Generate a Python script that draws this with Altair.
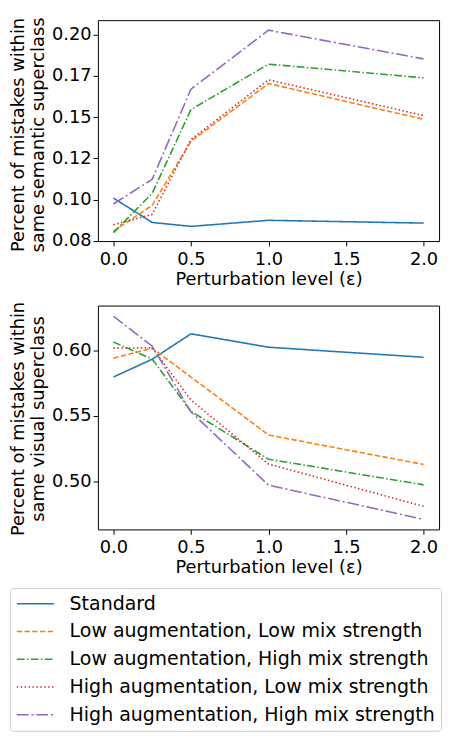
import altair as alt
import pandas as pd

eps = [0.0, 0.25, 0.5, 1.0, 2.0]
series = [
    "Standard",
    "Low augmentation, Low mix strength",
    "Low augmentation, High mix strength",
    "High augmentation, Low mix strength",
    "High augmentation, High mix strength",
]

# semantic superclass panel
sem_standard = [0.1009, 0.0861, 0.0837, 0.0874, 0.0857]
sem_low_low = [0.0808, 0.0965, 0.1354, 0.1704, 0.1487]
sem_low_high = [0.0799, 0.1038, 0.1546, 0.1822, 0.1739]
sem_high_low = [0.0847, 0.0910, 0.1364, 0.1727, 0.1510]
sem_high_high = [0.0973, 0.1123, 0.1670, 0.2028, 0.1854]

# visual superclass panel
vis_standard = [0.5796, 0.5931, 0.6124, 0.6022, 0.5946]
vis_low_low = [0.5939, 0.6015, 0.5796, 0.5356, 0.5133]
vis_low_high = [0.6062, 0.5931, 0.5536, 0.5173, 0.4978]
vis_high_low = [0.6015, 0.6018, 0.5622, 0.5136, 0.4815]
vis_high_high = [0.6257, 0.6030, 0.5531, 0.4976, 0.4716]

x_ticks = [0.0, 0.5, 1.0, 1.5, 2.0]
sem_ticks = [0.075, 0.1, 0.125, 0.15, 0.175, 0.2]
sem_tick_labels = ["0.08", "0.10", "0.12", "0.15", "0.17", "0.20"]
vis_ticks = [0.5, 0.55, 0.6]

colors = ["#1f77b4", "#ff7f0e", "#2ca02c", "#d62728", "#9467bd"]
dashes = [[1, 0], [5.5, 2.4], [8, 2.4, 1.5, 2.4], [1.5, 2.5], [12, 3, 2, 3]]

FONT = "DejaVu Sans"
AXIS_FS = 18.2
LEGEND_FS = 19.4


def long_frame(cols):
    rows = []
    for name, vals in zip(series, cols):
        for e, v in zip(eps, vals):
            rows.append({"eps": e, "val": v, "series": name})
    return pd.DataFrame(rows)


df_sem = long_frame([sem_standard, sem_low_low, sem_low_high, sem_high_low, sem_high_high])
df_vis = long_frame([vis_standard, vis_low_low, vis_low_high, vis_high_low, vis_high_high])

sem_label_expr = " : ".join(
    f"abs(datum.value - {t}) < 1e-6 ? '{lab}'" for t, lab in zip(sem_ticks, sem_tick_labels)
) + " : ''"

color_enc = alt.Color(
    "series:N",
    scale=alt.Scale(domain=series, range=colors),
    legend=alt.Legend(
        title=None,
        orient="none",
        legendX=-90,
        legendY=581,
        symbolType="stroke",
        symbolSize=1444,
        symbolStrokeWidth=1.6,
        clipHeight=20,
        rowPadding=8.4,
        labelOffset=15,
        padding=6,
        labelFont=FONT,
        labelFontSize=LEGEND_FS,
        labelColor="black",
        labelLimit=0,
        strokeColor="#cccccc",
        fillColor="white",
        cornerRadius=3,
    ),
)
dash_enc = alt.StrokeDash(
    "series:N",
    scale=alt.Scale(domain=series, range=dashes),
)

x_enc = alt.X(
    "eps:Q",
    scale=alt.Scale(domain=[-0.1, 2.1], nice=False, zero=False),
    axis=alt.Axis(values=x_ticks, format=".1f", title="Perturbation level (ε)"),
)

top = (
    alt.Chart(df_sem)
    .mark_line(strokeWidth=1.6)
    .encode(
        x=x_enc,
        y=alt.Y(
            "val:Q",
            scale=alt.Scale(domain=[0.0748, 0.2089], nice=False, zero=False),
            axis=alt.Axis(
                values=sem_ticks,
                labelExpr=sem_label_expr,
                title=["Percent of mistakes within", "same semantic superclass"],
                titleY=117,
            ),
        ),
        color=color_enc,
        strokeDash=dash_enc,
    )
    .properties(width=349, height=226)
)

bottom = (
    alt.Chart(df_vis)
    .mark_line(strokeWidth=1.6)
    .encode(
        x=x_enc,
        y=alt.Y(
            "val:Q",
            scale=alt.Scale(domain=[0.464, 0.6338], nice=False, zero=False),
            axis=alt.Axis(
                values=vis_ticks,
                format=".2f",
                title=["Percent of mistakes within", "same visual superclass"],
                titleY=115.5,
            ),
        ),
        color=color_enc,
        strokeDash=dash_enc,
    )
    .properties(width=349, height=229)
)

chart = (
    alt.vconcat(top, bottom, spacing=13)
    .properties(padding={"left": 0, "top": 0, "right": 0, "bottom": 0})
    .configure_view(stroke="black", strokeWidth=1)
    .configure_axis(
        labelFont=FONT,
        labelFontSize=AXIS_FS,
        labelColor="black",
        titleFont=FONT,
        titleFontSize=AXIS_FS,
        titleFontWeight="normal",
        titleColor="black",
        titleLineHeight=21,
        tickColor="black",
        tickSize=5,
        tickWidth=1,
        grid=False,
        domain=False,
        labelPadding=5,
        titlePadding=3,
    )
    .configure_axisY(titlePadding=4, labelPadding=2)
)

chart.save("out.html", embed_options={"renderer": "svg", "actions": False})
